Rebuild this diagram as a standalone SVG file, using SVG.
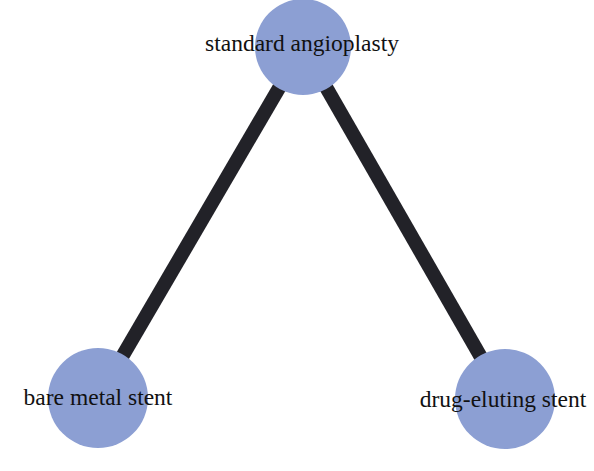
<svg xmlns="http://www.w3.org/2000/svg" width="594" height="471" viewBox="0 0 594 471">
<style>
.edge{stroke:#222228;stroke-width:14;stroke-linecap:butt}
.node circle{fill:#8c9fd3}
.node text{font-family:"Liberation Serif",serif;font-size:23.5px;fill:#111;text-anchor:middle}
</style>
<rect width="594" height="471" fill="#fff"/>
<g id="connectors">
<line class="edge" x1="303" y1="47" x2="98" y2="398"/>
<line class="edge" x1="303" y1="47" x2="505" y2="399"/>
</g>
<g id="node-standard-angioplasty" class="node">
<circle cx="303" cy="47" r="48"/>
<text x="302" y="51">standard angioplasty</text>
</g>
<g id="node-bare-metal-stent" class="node">
<circle cx="98" cy="398" r="50"/>
<text x="98" y="405">bare metal stent</text>
</g>
<g id="node-drug-eluting-stent" class="node">
<circle cx="505" cy="399" r="50"/>
<text x="503" y="407">drug-eluting stent</text>
</g>
</svg>
